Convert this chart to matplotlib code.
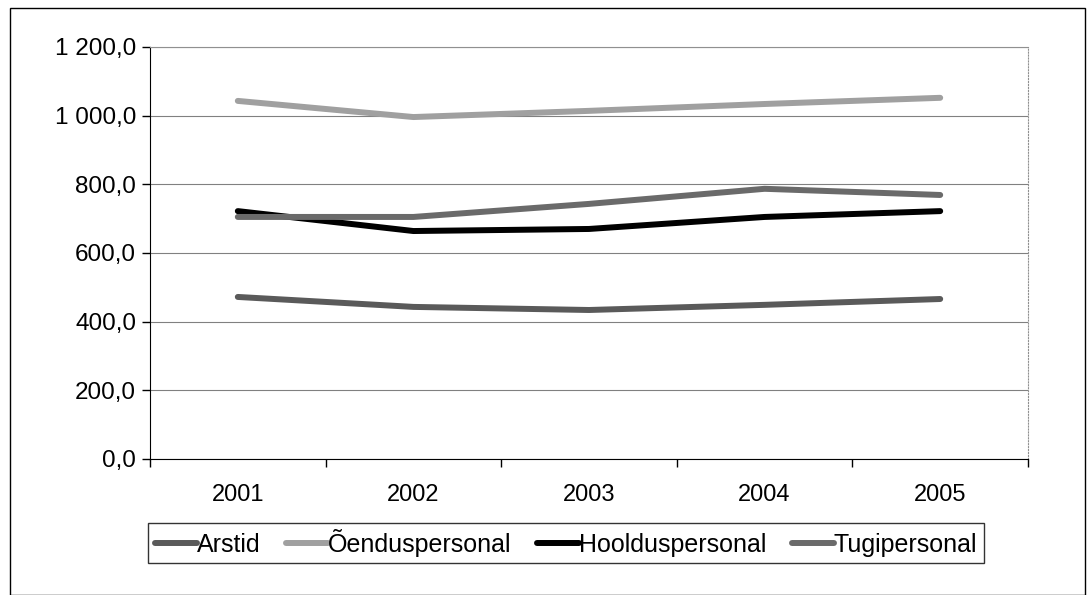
import matplotlib.pyplot as plt
from matplotlib.ticker import FuncFormatter, FixedLocator
from matplotlib.patches import Rectangle

plt.rcParams['font.family'] = ['Liberation Sans', 'DejaVu Sans']

years = ['2001', '2002', '2003', '2004', '2005']
arstid = [472, 443, 434, 449, 466]
oendus = [1043, 996, 1014, 1034, 1052]
hooldus = [722, 664, 670, 705, 722]
tugi = [705, 705, 743, 787, 769]

series = [
    ('Arstid', arstid, '#5a5a5a'),
    ('Õenduspersonal', oendus, '#a0a0a0'),
    ('Hoolduspersonal', hooldus, '#000000'),
    ('Tugipersonal', tugi, '#6a6a6a'),
]

fig = plt.figure(figsize=(10.89, 5.95), dpi=100)
ax = fig.add_axes([150 / 1089, 1 - 459 / 595, 878 / 1089, 412 / 595])

x = range(len(years))
for name, vals, col in series:
    ax.plot(x, vals, color=col, lw=4.3, label=name, solid_capstyle='round')

ax.set_xlim(-0.5, len(years) - 0.5)
ax.set_ylim(0, 1200)
ax.set_yticks(range(0, 1201, 200))
ax.yaxis.set_major_formatter(FuncFormatter(
    lambda v, p: ('{:,.1f}'.format(v)).replace(',', ' ').replace('.', ',')))
ax.set_xticks(list(x))
ax.set_xticklabels(years)
ax.xaxis.set_minor_locator(FixedLocator([i - 0.5 for i in range(len(years) + 1)]))
ax.tick_params(axis='x', which='major', length=0, pad=18, labelsize=17)
ax.tick_params(axis='x', which='minor', length=6, direction='out', width=1)
ax.tick_params(axis='y', length=6, direction='out', width=1, labelsize=17.5, pad=4)

ax.grid(axis='y', color='#808080', lw=0.8)
ax.set_axisbelow(True)
ax.spines['left'].set_color('black')
ax.spines['bottom'].set_color('black')
ax.spines['top'].set_color('#909090')
ax.spines['right'].set_color('#909090')
ax.spines['right'].set_linestyle(':')

leg = fig.legend(loc='center', bbox_to_anchor=(566 / 1089, 1 - 543 / 595),
                 ncol=4, frameon=True, fancybox=False, fontsize=18,
                 handlelength=1.7, handletextpad=0.0, columnspacing=1.0,
                 borderpad=0.25, borderaxespad=0)
leg.get_frame().set_edgecolor('black')
leg.get_frame().set_linewidth(1)

fig.patches.append(Rectangle((10 / 1089, 0.0), 1075 / 1089, 1 - 8 / 595,
                             transform=fig.transFigure, fill=False,
                             edgecolor='black', lw=1))

fig.savefig('out.png', dpi=100)
